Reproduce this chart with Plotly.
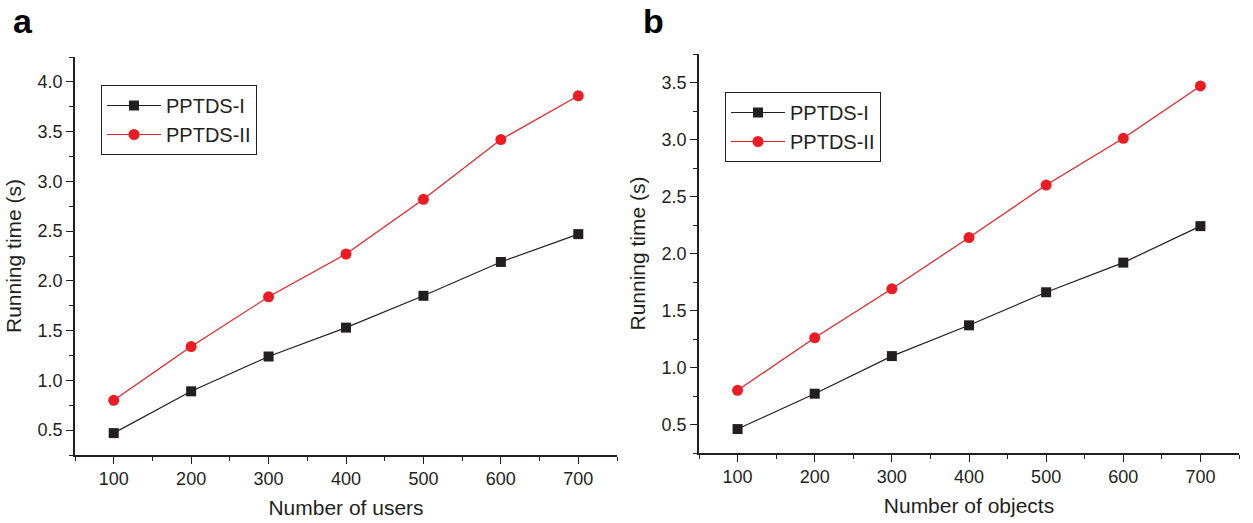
import plotly.graph_objects as go

x_vals = [100, 200, 300, 400, 500, 600, 700]
a_pptds1 = [0.47, 0.89, 1.24, 1.53, 1.85, 2.19, 2.47]
a_pptds2 = [0.80, 1.34, 1.84, 2.27, 2.82, 3.42, 3.86]
b_pptds1 = [0.46, 0.77, 1.10, 1.37, 1.66, 1.92, 2.24]
b_pptds2 = [0.80, 1.26, 1.69, 2.14, 2.60, 3.01, 3.47]
series_names = ["PPTDS-I", "PPTDS-II"]
x_titles = ["Number of users", "Number of objects"]
y_title = "Running time (s)"
panel_labels = ["a", "b"]

FONT = "Liberation Sans, Arial, sans-serif"
BLACK = "#231f20"
RED = "#ed1c24"

W, H = 1253, 523


def fx(px):
    return px / W


def fy(py):
    return 1 - py / H


fig = go.Figure()


def add_series(y, name, color, symbol, xa, ya, legend):
    fig.add_trace(go.Scatter(
        x=x_vals, y=y, name=name, mode="lines+markers",
        line=dict(color=color, width=1.2),
        marker=dict(symbol=symbol, size=10 if symbol == "square" else 11, color=color),
        xaxis=xa, yaxis=ya, legend=legend,
    ))


add_series(a_pptds1, series_names[0], BLACK, "square", "x", "y", "legend")
add_series(a_pptds2, series_names[1], RED, "circle", "x", "y", "legend")
add_series(b_pptds1, series_names[0], BLACK, "square", "x2", "y2", "legend2")
add_series(b_pptds2, series_names[1], RED, "circle", "x2", "y2", "legend2")

axis_common = dict(
    showline=True, linecolor=BLACK, linewidth=1.5, mirror=False,
    ticks="outside", ticklen=7, tickwidth=1.3, tickcolor=BLACK,
    showgrid=False, zeroline=False,
    tickfont=dict(family=FONT, size=18, color=BLACK),
)
minor_y = dict(dtick=0.25, tick0=0.25, ticks="outside", ticklen=4, tickwidth=1.2, tickcolor=BLACK)
minor_x = dict(dtick=50, tick0=50, ticks="outside", ticklen=4, tickwidth=1.2, tickcolor=BLACK)
title_font = dict(family=FONT, size=21, color=BLACK)
xaxis_common = dict(axis_common, range=[50, 750], tickvals=x_vals, minor=minor_x)
legend_common = dict(xanchor="left", yanchor="top", bordercolor=BLACK, borderwidth=1,
                     bgcolor="white", font=dict(family=FONT, size=20, color=BLACK),
                     tracegroupgap=0, itemwidth=54)

fig.update_layout(
    width=W, height=H,
    margin=dict(l=0, r=0, t=0, b=0),
    paper_bgcolor="white", plot_bgcolor="white",
    font=dict(family=FONT, color=BLACK),
    xaxis=dict(xaxis_common, domain=[fx(75), fx(617)], anchor="y",
               title=dict(text=x_titles[0], font=title_font, standoff=12)),
    yaxis=dict(axis_common, domain=[fy(455), fy(57)], anchor="x", range=[0.25, 4.25],
               dtick=0.5, tick0=0.5, tickformat=".1f", minor=minor_y,
               title=dict(text=y_title, font=title_font, standoff=10)),
    xaxis2=dict(xaxis_common, domain=[fx(699), fx(1239)], anchor="y2",
                title=dict(text=x_titles[1], font=title_font, standoff=12)),
    yaxis2=dict(axis_common, domain=[fy(453), fy(54)], anchor="x2", range=[0.25, 3.75],
                dtick=0.5, tick0=0.5, tickformat=".1f", minor=minor_y,
                title=dict(text=y_title, font=title_font, standoff=10)),
    legend=dict(legend_common, x=fx(101), y=fy(85)),
    legend2=dict(legend_common, x=fx(725), y=fy(92)),
    showlegend=True,
)

for lbl, px in zip(panel_labels, [11, 641]):
    fig.add_annotation(text="<b>" + lbl + "</b>", x=fx(px), y=fy(0), xref="paper", yref="paper",
                       xanchor="left", yanchor="top", showarrow=False,
                       font=dict(family=FONT, size=34, color="black"))

fig.write_html("out.html", config={"displayModeBar": False},
               post_script="document.body.style.margin='0';")
